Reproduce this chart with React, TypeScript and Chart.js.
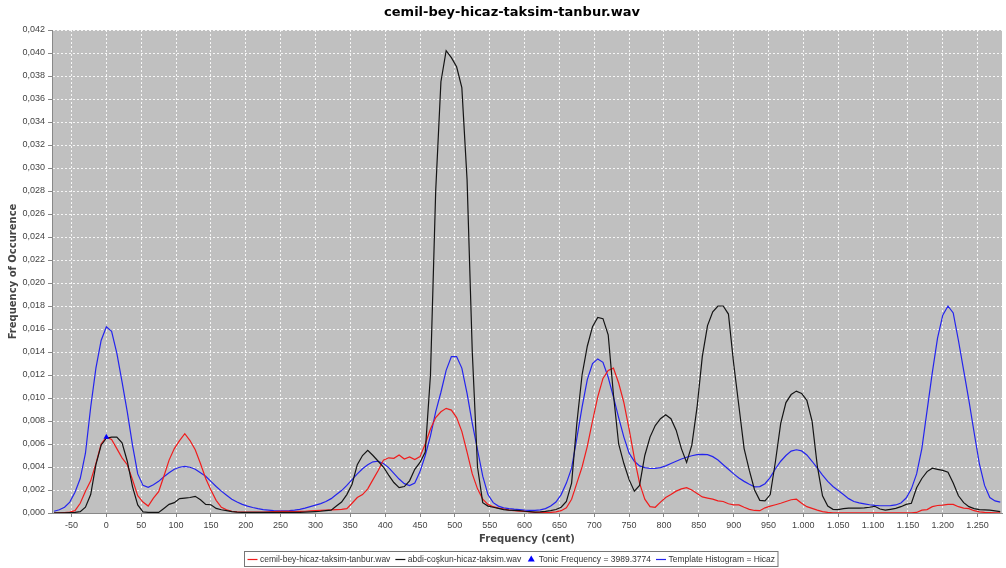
import React, { useEffect, useRef } from 'react';
import { Chart, registerables } from 'chart.js';

Chart.register(...registerables);

// ---------- text ----------
const TITLE = 'cemil-bey-hicaz-taksim-tanbur.wav';
const X_TITLE = 'Frequency (cent)';
const Y_TITLE = 'Frequency of Occurence';
const LABEL_RECORDING_A = 'cemil-bey-hicaz-taksim-tanbur.wav';
const LABEL_RECORDING_B = 'abdi-coşkun-hicaz-taksim.wav';
const LABEL_TONIC = 'Tonic Frequency = 3989.3774';
const LABEL_TEMPLATE = 'Template Histogram = Hicaz';

// ---------- axes ----------
const X_MIN = -78;
const X_MAX = 1285;
const X_STEP = 50;
const Y_MIN = 0;
const Y_MAX = 0.042;
const Y_STEP = 0.002;

// ---------- histogram bins (cent) ----------
const BIN_START = -75;
const BIN_STEP = 7.5;

// one row = 10 bins (75 cents), starting at -75 cents
const RED_VALUES = [
  0, 0.00002, 0.00004, 0.00007, 0.0002, 0.00085, 0.0019, 0.0028, 0.0043, 0.006,
  0.0066, 0.0064, 0.0056, 0.0048, 0.0042, 0.0029, 0.0015, 0.00095, 0.0006, 0.0013,
  0.00185, 0.0032, 0.0046, 0.0056, 0.0063, 0.0069, 0.0063, 0.0055, 0.0043, 0.003,
  0.002, 0.0011, 0.0005, 0.00028, 0.00015, 0.0001, 0.00008, 0.00008, 0.00007, 0.00007,
  0.00008, 0.0001, 0.00012, 0.00015, 0.00015, 0.00014, 0.00013, 0.00014, 0.00015, 0.00018,
  0.0002, 0.00022, 0.00025, 0.00028, 0.0003, 0.00032, 0.00038, 0.00085, 0.00135, 0.0016,
  0.0021, 0.0029, 0.0037, 0.0046, 0.0048, 0.00475, 0.00505, 0.0047, 0.00487, 0.00465,
  0.0049, 0.006, 0.0073, 0.0083, 0.0088, 0.0091, 0.00895, 0.0083, 0.0071, 0.0053,
  0.0034, 0.0021, 0.0012, 0.00075, 0.00055, 0.00043, 0.00035, 0.00025, 0.0002, 0.00017,
  0.00014, 0.0001, 0.00006, 0.00005, 0.00004, 0.00005, 0.0001, 0.0002, 0.00045, 0.0012,
  0.0026, 0.004, 0.0058, 0.008, 0.0101, 0.0117, 0.0124, 0.0126, 0.0113, 0.0096,
  0.0073, 0.0048, 0.0026, 0.0012, 0.00055, 0.0005, 0.00095, 0.00135, 0.0016, 0.0019,
  0.0021, 0.0022, 0.002, 0.0017, 0.0014, 0.0013, 0.0012, 0.00105, 0.001, 0.0008,
  0.0007, 0.0007, 0.0005, 0.00032, 0.00022, 0.0002, 0.00045, 0.0006, 0.00072, 0.00085,
  0.001, 0.00115, 0.0012, 0.00085, 0.00055, 0.0004, 0.00025, 0.00012, 0.00005, 0.00002,
  0.00002, 0.00001, 0.00001, 0.00001, 0.00001, 0.00001, 0.00001, 0.00001, 0.00001, 0.00001,
  0.00001, 0.00001, 0.00001, 0.00001, 0.00002, 0.00005, 0.00025, 0.0003, 0.00055, 0.00065,
  0.00068, 0.00075, 0.00075, 0.00055, 0.00043, 0.00038, 0.0002, 0.0001, 0.00005, 0.00003,
  0.00002, 0.00002,
];

const BLACK_VALUES = [
  0.00002, 0.00002, 0.00002, 0.00003, 0.00005, 0.00012, 0.0005, 0.0016, 0.0042, 0.0059,
  0.0065, 0.0066, 0.0066, 0.0061, 0.0045, 0.0023, 0.0007, 0.0001, 0.00006, 0.00005,
  0.00005, 0.0004, 0.00075, 0.0009, 0.00125, 0.0013, 0.00135, 0.00145, 0.00115, 0.00075,
  0.00072, 0.0004, 0.00028, 0.0002, 0.00012, 0.00008, 0.00006, 0.00005, 0.00005, 0.00005,
  0.00005, 0.00006, 0.00006, 0.00006, 0.00005, 0.00005, 0.00005, 0.00006, 0.00008, 0.0001,
  0.00012, 0.00015, 0.0002, 0.00025, 0.0006, 0.00095, 0.0016, 0.0025, 0.0042, 0.005,
  0.00545, 0.005, 0.0045, 0.004, 0.0033, 0.00265, 0.0022, 0.0023, 0.0028, 0.0038,
  0.0044, 0.0053, 0.012, 0.028, 0.0375, 0.0402, 0.0396, 0.0388, 0.037, 0.029,
  0.014, 0.004, 0.0009, 0.0006, 0.0005, 0.0004, 0.0003, 0.00025, 0.00022, 0.0002,
  0.00015, 0.00012, 0.00008, 0.0001, 0.00014, 0.0002, 0.0003, 0.0005, 0.001, 0.0026,
  0.0078, 0.012, 0.0145, 0.0162, 0.017, 0.0169, 0.0155, 0.0103, 0.006, 0.0043,
  0.0029, 0.0019, 0.0024, 0.005, 0.0066, 0.0076, 0.0082, 0.00855, 0.0082, 0.0072,
  0.0056, 0.0044, 0.0059, 0.0092, 0.0136, 0.0163, 0.0175, 0.018, 0.018, 0.0173,
  0.013, 0.0093, 0.0056, 0.0037, 0.002, 0.0011, 0.00105, 0.0016, 0.0045, 0.0078,
  0.0096, 0.0103, 0.0106, 0.0104, 0.0098, 0.008, 0.0041, 0.0015, 0.0006, 0.00032,
  0.0003, 0.00038, 0.00043, 0.00042, 0.00042, 0.00045, 0.0005, 0.00058, 0.00035, 0.00025,
  0.00032, 0.0004, 0.00055, 0.00075, 0.00085, 0.0022, 0.003, 0.0036, 0.0039, 0.0038,
  0.0037, 0.00355, 0.0026, 0.0015, 0.0009, 0.00055, 0.00038, 0.0003, 0.00028, 0.00025,
  0.00018, 0.00012,
];

const BLUE_VALUES = [
  0.00015, 0.00028, 0.0005, 0.00095, 0.0018, 0.003, 0.0052, 0.0092, 0.0126, 0.015,
  0.0162, 0.0158, 0.0139, 0.0114, 0.0088, 0.0059, 0.0034, 0.0024, 0.00223, 0.00245,
  0.00275, 0.00315, 0.0035, 0.0038, 0.00398, 0.00406, 0.00398, 0.0038, 0.0035, 0.0032,
  0.00275, 0.0023, 0.0019, 0.00155, 0.0012, 0.00095, 0.00075, 0.0006, 0.00048, 0.00038,
  0.0003, 0.00025, 0.0002, 0.00018, 0.00018, 0.0002, 0.00025, 0.00032, 0.00042, 0.00055,
  0.00068, 0.00082, 0.001, 0.00125, 0.0016, 0.00195, 0.0024, 0.0029, 0.0034, 0.00385,
  0.0042, 0.00445, 0.0045, 0.0043, 0.00395, 0.00345, 0.00295, 0.00255, 0.00238, 0.0026,
  0.0036, 0.005, 0.0067, 0.0088, 0.0105, 0.0124, 0.0136, 0.0136, 0.0126, 0.0104,
  0.0078, 0.0055, 0.0032, 0.0016, 0.0009, 0.0006, 0.00045, 0.00038, 0.00033, 0.0003,
  0.00025, 0.00022, 0.00022, 0.00027, 0.00038, 0.0006, 0.00095, 0.0016, 0.0026, 0.0039,
  0.0065, 0.0092, 0.0116, 0.013, 0.0134, 0.0131, 0.0118, 0.0101, 0.0083, 0.0066,
  0.0052, 0.0045, 0.0041, 0.00395, 0.00387, 0.00388, 0.00395, 0.0041, 0.0043, 0.0045,
  0.0047, 0.00485, 0.00498, 0.00508, 0.0051, 0.00507, 0.0049, 0.0046, 0.0042, 0.0038,
  0.0034, 0.00305, 0.00275, 0.0025, 0.00227, 0.0023, 0.00255, 0.0031, 0.00385, 0.0045,
  0.005, 0.00538, 0.0055, 0.0054, 0.00505, 0.0045, 0.0039, 0.0033, 0.00275, 0.0023,
  0.00195, 0.0016, 0.00125, 0.001, 0.00088, 0.0008, 0.00072, 0.00066, 0.00063, 0.00063,
  0.00064, 0.0007, 0.00087, 0.0013, 0.0021, 0.0034, 0.0056, 0.0089, 0.0122, 0.0152,
  0.0172, 0.018, 0.0174, 0.015, 0.0124, 0.0098, 0.007, 0.0043, 0.0024, 0.00135,
  0.00105, 0.00095,
];

const TONIC_CENTS = [0];
const TONIC_VALUES = [0.0066];

// ---------- styles ----------
const COLOR_RED = '#f01c1c';
const COLOR_BLACK = '#141414';
const COLOR_BLUE = '#2424ee';
const COLOR_TONIC = '#0000ff';
const PLOT_BG = '#c0c0c0';
const TEXT_COLOR = '#444444';
const LINE_WIDTH = 1.2;
const SANS = '"Liberation Sans", Arial, sans-serif';
const BOLD_SANS = '"DejaVu Sans", Verdana, sans-serif';

const toPoints = (values: number[]) =>
  values.map((v, i) => ({ x: BIN_START + i * BIN_STEP, y: v }));

const formatX = (v: number) => {
  const n = Math.round(v);
  const s = String(Math.abs(n)).replace(/\B(?=(\d{3})+(?!\d))/g, '.');
  return (n < 0 ? '-' : '') + s;
};
const formatY = (v: number) => v.toFixed(3).replace('.', ',');

const plotBackground = {
  id: 'plotBackground',
  beforeDraw(chart: any) {
    const { ctx, chartArea } = chart;
    ctx.save();
    ctx.fillStyle = PLOT_BG;
    ctx.fillRect(chartArea.left, chartArea.top, chartArea.right - chartArea.left, chartArea.bottom - chartArea.top);
    ctx.restore();
  },
};

const TITLE_CENTER_X = 512;
const TITLE_BASELINE = 16;
const titlePlugin = {
  id: 'topTitle',
  afterDraw(chart: any) {
    const { ctx } = chart;
    ctx.save();
    ctx.font = `bold 13px ${BOLD_SANS}`;
    ctx.fillStyle = '#000';
    ctx.textAlign = 'center';
    ctx.textBaseline = 'alphabetic';
    ctx.fillText(TITLE, TITLE_CENTER_X, TITLE_BASELINE);
    ctx.restore();
  },
};

const LEGEND_CENTER_X = 511;
const LEGEND_TOP = 551;
const LEGEND_HEIGHT = 15;
const LEGEND_FONT = 8.5;
const legendPlugin = {
  id: 'boxLegend',
  afterDraw(chart: any) {
    const { ctx } = chart;
    const datasets = chart.data.datasets;
    const pad = 3;
    const slot = 10;
    const gap = 2.5;
    const itemGap = 5;
    ctx.save();
    ctx.font = `${LEGEND_FONT}px ${SANS}`;
    const widths = datasets.map((d: any) => ctx.measureText(d.label).width);
    let total = pad * 2 + itemGap * (datasets.length - 1);
    widths.forEach((w: number) => (total += slot + gap + w));
    const left = Math.round(LEGEND_CENTER_X - total / 2) + 0.5;
    const top = LEGEND_TOP + 0.5;
    ctx.fillStyle = '#fff';
    ctx.fillRect(left, top, total, LEGEND_HEIGHT);
    ctx.strokeStyle = '#777';
    ctx.lineWidth = 1;
    ctx.strokeRect(left, top, total, LEGEND_HEIGHT);
    const cy = top + LEGEND_HEIGHT / 2;
    let x = left + pad;
    datasets.forEach((d: any, i: number) => {
      if (d.showLine === false) {
        ctx.fillStyle = d.backgroundColor;
        ctx.beginPath();
        ctx.moveTo(x + slot / 2, cy - 3.5);
        ctx.lineTo(x + slot / 2 + 3.5, cy + 2.5);
        ctx.lineTo(x + slot / 2 - 3.5, cy + 2.5);
        ctx.closePath();
        ctx.fill();
      } else {
        ctx.strokeStyle = d.borderColor;
        ctx.lineWidth = 1.2;
        ctx.beginPath();
        ctx.moveTo(x, Math.round(cy) + 0.5);
        ctx.lineTo(x + slot, Math.round(cy) + 0.5);
        ctx.stroke();
      }
      x += slot + gap;
      ctx.fillStyle = '#333';
      ctx.textAlign = 'left';
      ctx.textBaseline = 'middle';
      ctx.fillText(d.label, x, cy + 0.5);
      x += widths[i] + itemGap;
    });
    ctx.restore();
  },
};

export default function App() {
  const canvasRef = useRef<HTMLCanvasElement | null>(null);

  useEffect(() => {
    if (!canvasRef.current) return;
    const chart = new Chart(canvasRef.current, {
      type: 'line',
      data: {
        datasets: [
          {
            label: LABEL_RECORDING_A,
            data: toPoints(RED_VALUES),
            borderColor: COLOR_RED,
            backgroundColor: COLOR_RED,
            borderWidth: LINE_WIDTH,
            pointRadius: 0,
            tension: 0,
            order: 2,
          },
          {
            label: LABEL_RECORDING_B,
            data: toPoints(BLACK_VALUES),
            borderColor: COLOR_BLACK,
            backgroundColor: COLOR_BLACK,
            borderWidth: LINE_WIDTH,
            pointRadius: 0,
            tension: 0,
            order: 1,
          },
          {
            label: LABEL_TONIC,
            data: TONIC_CENTS.map((c, i) => ({ x: c, y: TONIC_VALUES[i] })),
            showLine: false,
            borderColor: COLOR_TONIC,
            backgroundColor: COLOR_TONIC,
            pointStyle: 'triangle',
            pointRadius: 3.3,
            pointBorderWidth: 0,
            order: 0,
          },
          {
            label: LABEL_TEMPLATE,
            data: toPoints(BLUE_VALUES),
            borderColor: COLOR_BLUE,
            backgroundColor: COLOR_BLUE,
            borderWidth: LINE_WIDTH,
            pointRadius: 0,
            tension: 0,
            order: 3,
          },
        ] as any,
      },
      options: {
        responsive: false,
        animation: false,
        devicePixelRatio: 1,
        events: [],
        layout: { padding: { top: 30, bottom: 22, left: 0, right: 0 } },
        plugins: {
          legend: { display: false },
          title: { display: false },
          tooltip: { enabled: false },
        },
        scales: {
          x: {
            type: 'linear',
            min: X_MIN,
            max: X_MAX,
            afterFit: (scale: any) => {
              scale.height = 33;
            },
            ticks: {
              stepSize: X_STEP,
              includeBounds: false,
              autoSkip: false,
              maxRotation: 0,
              padding: 3,
              color: TEXT_COLOR,
              font: { family: SANS, size: 9 },
              callback: (v: any) => formatX(Number(v)),
            },
            grid: {
              color: 'rgba(255,255,255,0.85)',
              lineWidth: 1,
              tickLength: 4,
              tickColor: '#888',
            },
            border: { display: true, color: '#888', dash: [2, 2] },
            title: {
              display: true,
              text: X_TITLE,
              color: TEXT_COLOR,
              font: { family: BOLD_SANS, size: 10, weight: 'bold' },
              padding: { top: 0, bottom: 1 },
            },
          },
          y: {
            type: 'linear',
            min: Y_MIN,
            max: Y_MAX,
            afterFit: (scale: any) => {
              scale.width = 52;
            },
            ticks: {
              stepSize: Y_STEP,
              padding: 3,
              color: TEXT_COLOR,
              font: { family: SANS, size: 9 },
              callback: (v: any) => formatY(Number(v)),
            },
            grid: {
              color: 'rgba(255,255,255,0.85)',
              lineWidth: 1,
              tickLength: 4,
              tickColor: '#888',
            },
            border: { display: true, color: '#888', dash: [2, 2] },
            title: {
              display: true,
              text: Y_TITLE,
              color: TEXT_COLOR,
              font: { family: BOLD_SANS, size: 10, weight: 'bold' },
              padding: { top: 7, bottom: 0 },
            },
          },
        },
      } as any,
      plugins: [plotBackground, titlePlugin, legendPlugin],
    });
    return () => chart.destroy();
  }, []);

  return (
    <div style={{ position: 'absolute', left: 0, top: 0, width: 1006, height: 568, background: '#fff' }}>
      <canvas ref={canvasRef} width={1006} height={568} />
    </div>
  );
}
